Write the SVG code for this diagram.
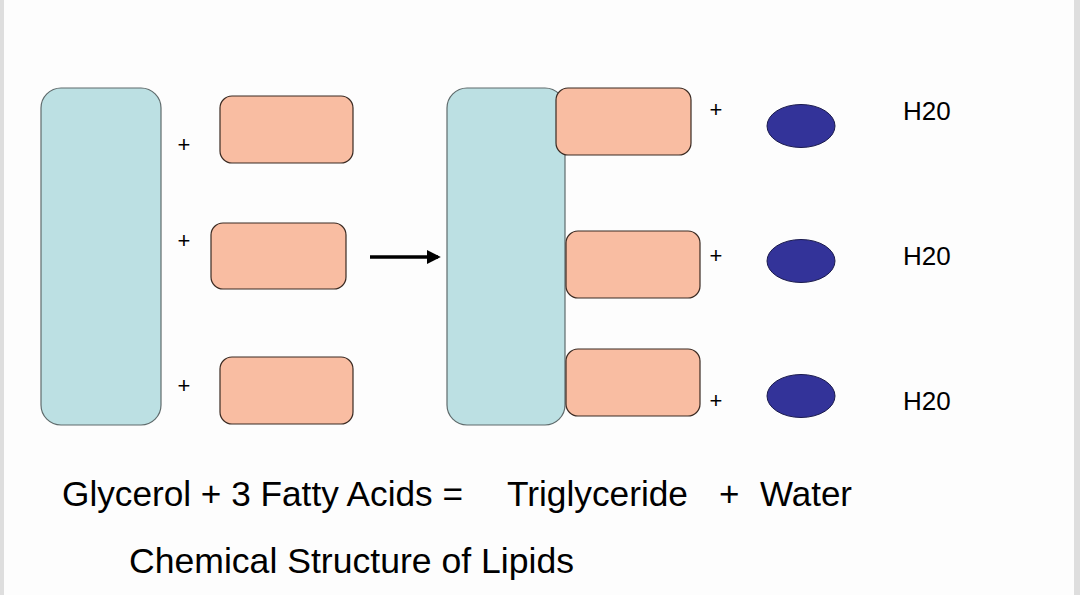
<svg xmlns="http://www.w3.org/2000/svg" width="1080" height="595" viewBox="0 0 1080 595">
<defs>
<style>
.gly{fill:#bce0e3;stroke:#5f6b6c;stroke-width:1.2}
.fa{fill:#f9bda2;stroke:#3a2a22;stroke-width:1.2}
.wat{fill:#333399;stroke:#1a1a4d;stroke-width:1}
.t{font-family:"Liberation Sans",Arial,sans-serif;fill:#000}
.plus{font-size:22px;text-anchor:middle}
.h{font-size:26px}
.big{font-size:35px}
</style>
<marker id="ah" markerWidth="4" markerHeight="4" refX="3.2" refY="2" orient="auto" markerUnits="strokeWidth">
<path d="M0,0 L4,2 L0,4 Z" fill="#000"/>
</marker>
</defs>
<rect width="1080" height="595" fill="#fdfdfd"/>
<rect x="0" y="0" width="4" height="595" fill="#dedede"/>
<rect x="1074" y="0" width="6" height="595" fill="#dedede"/>

<g id="glycerol-left"><rect class="gly" x="41" y="88" width="120" height="337" rx="20"/></g>
<g id="fa-left-1"><rect class="fa" x="220" y="96" width="133" height="67" rx="12"/></g>
<g id="fa-left-2"><rect class="fa" x="211" y="223" width="135" height="66" rx="12"/></g>
<g id="fa-left-3"><rect class="fa" x="220" y="357" width="133" height="67" rx="12"/></g>

<g id="glycerol-right"><rect class="gly" x="447" y="88" width="118" height="337" rx="20"/></g>
<g id="fa-right-1"><rect class="fa" x="556" y="88" width="135" height="67" rx="12"/></g>
<g id="fa-right-2"><rect class="fa" x="566" y="231" width="134" height="67" rx="12"/></g>
<g id="fa-right-3"><rect class="fa" x="566" y="349" width="134" height="67" rx="12"/></g>

<g id="water-1"><ellipse class="wat" cx="801" cy="126" rx="34" ry="21.5"/></g>
<g id="water-2"><ellipse class="wat" cx="801" cy="261" rx="34" ry="21.5"/></g>
<g id="water-3"><ellipse class="wat" cx="801" cy="396" rx="34" ry="21.5"/></g>

<g id="connectors">
<line x1="370" y1="257" x2="438" y2="257" stroke="#000" stroke-width="3.5" marker-end="url(#ah)"/>
</g>

<g id="labels">
<text class="t plus" x="184" y="152">+</text>
<text class="t plus" x="184" y="248">+</text>
<text class="t plus" x="184" y="393">+</text>
<text class="t plus" x="716" y="117">+</text>
<text class="t plus" x="716" y="263">+</text>
<text class="t plus" x="716" y="408">+</text>
<text class="t h" x="903" y="120">H20</text>
<text class="t h" x="903" y="265">H20</text>
<text class="t h" x="903" y="410">H20</text>
<text class="t big" x="62" y="506" textLength="401" lengthAdjust="spacingAndGlyphs">Glycerol + 3 Fatty Acids =</text>
<text class="t big" x="507" y="506" textLength="181" lengthAdjust="spacingAndGlyphs">Triglyceride</text>
<text class="t big" x="719" y="506">+</text>
<text class="t big" x="760" y="506" textLength="92" lengthAdjust="spacingAndGlyphs">Water</text>
<text class="t big" x="129" y="573" textLength="445" lengthAdjust="spacingAndGlyphs">Chemical Structure of Lipids</text>
</g>
</svg>
